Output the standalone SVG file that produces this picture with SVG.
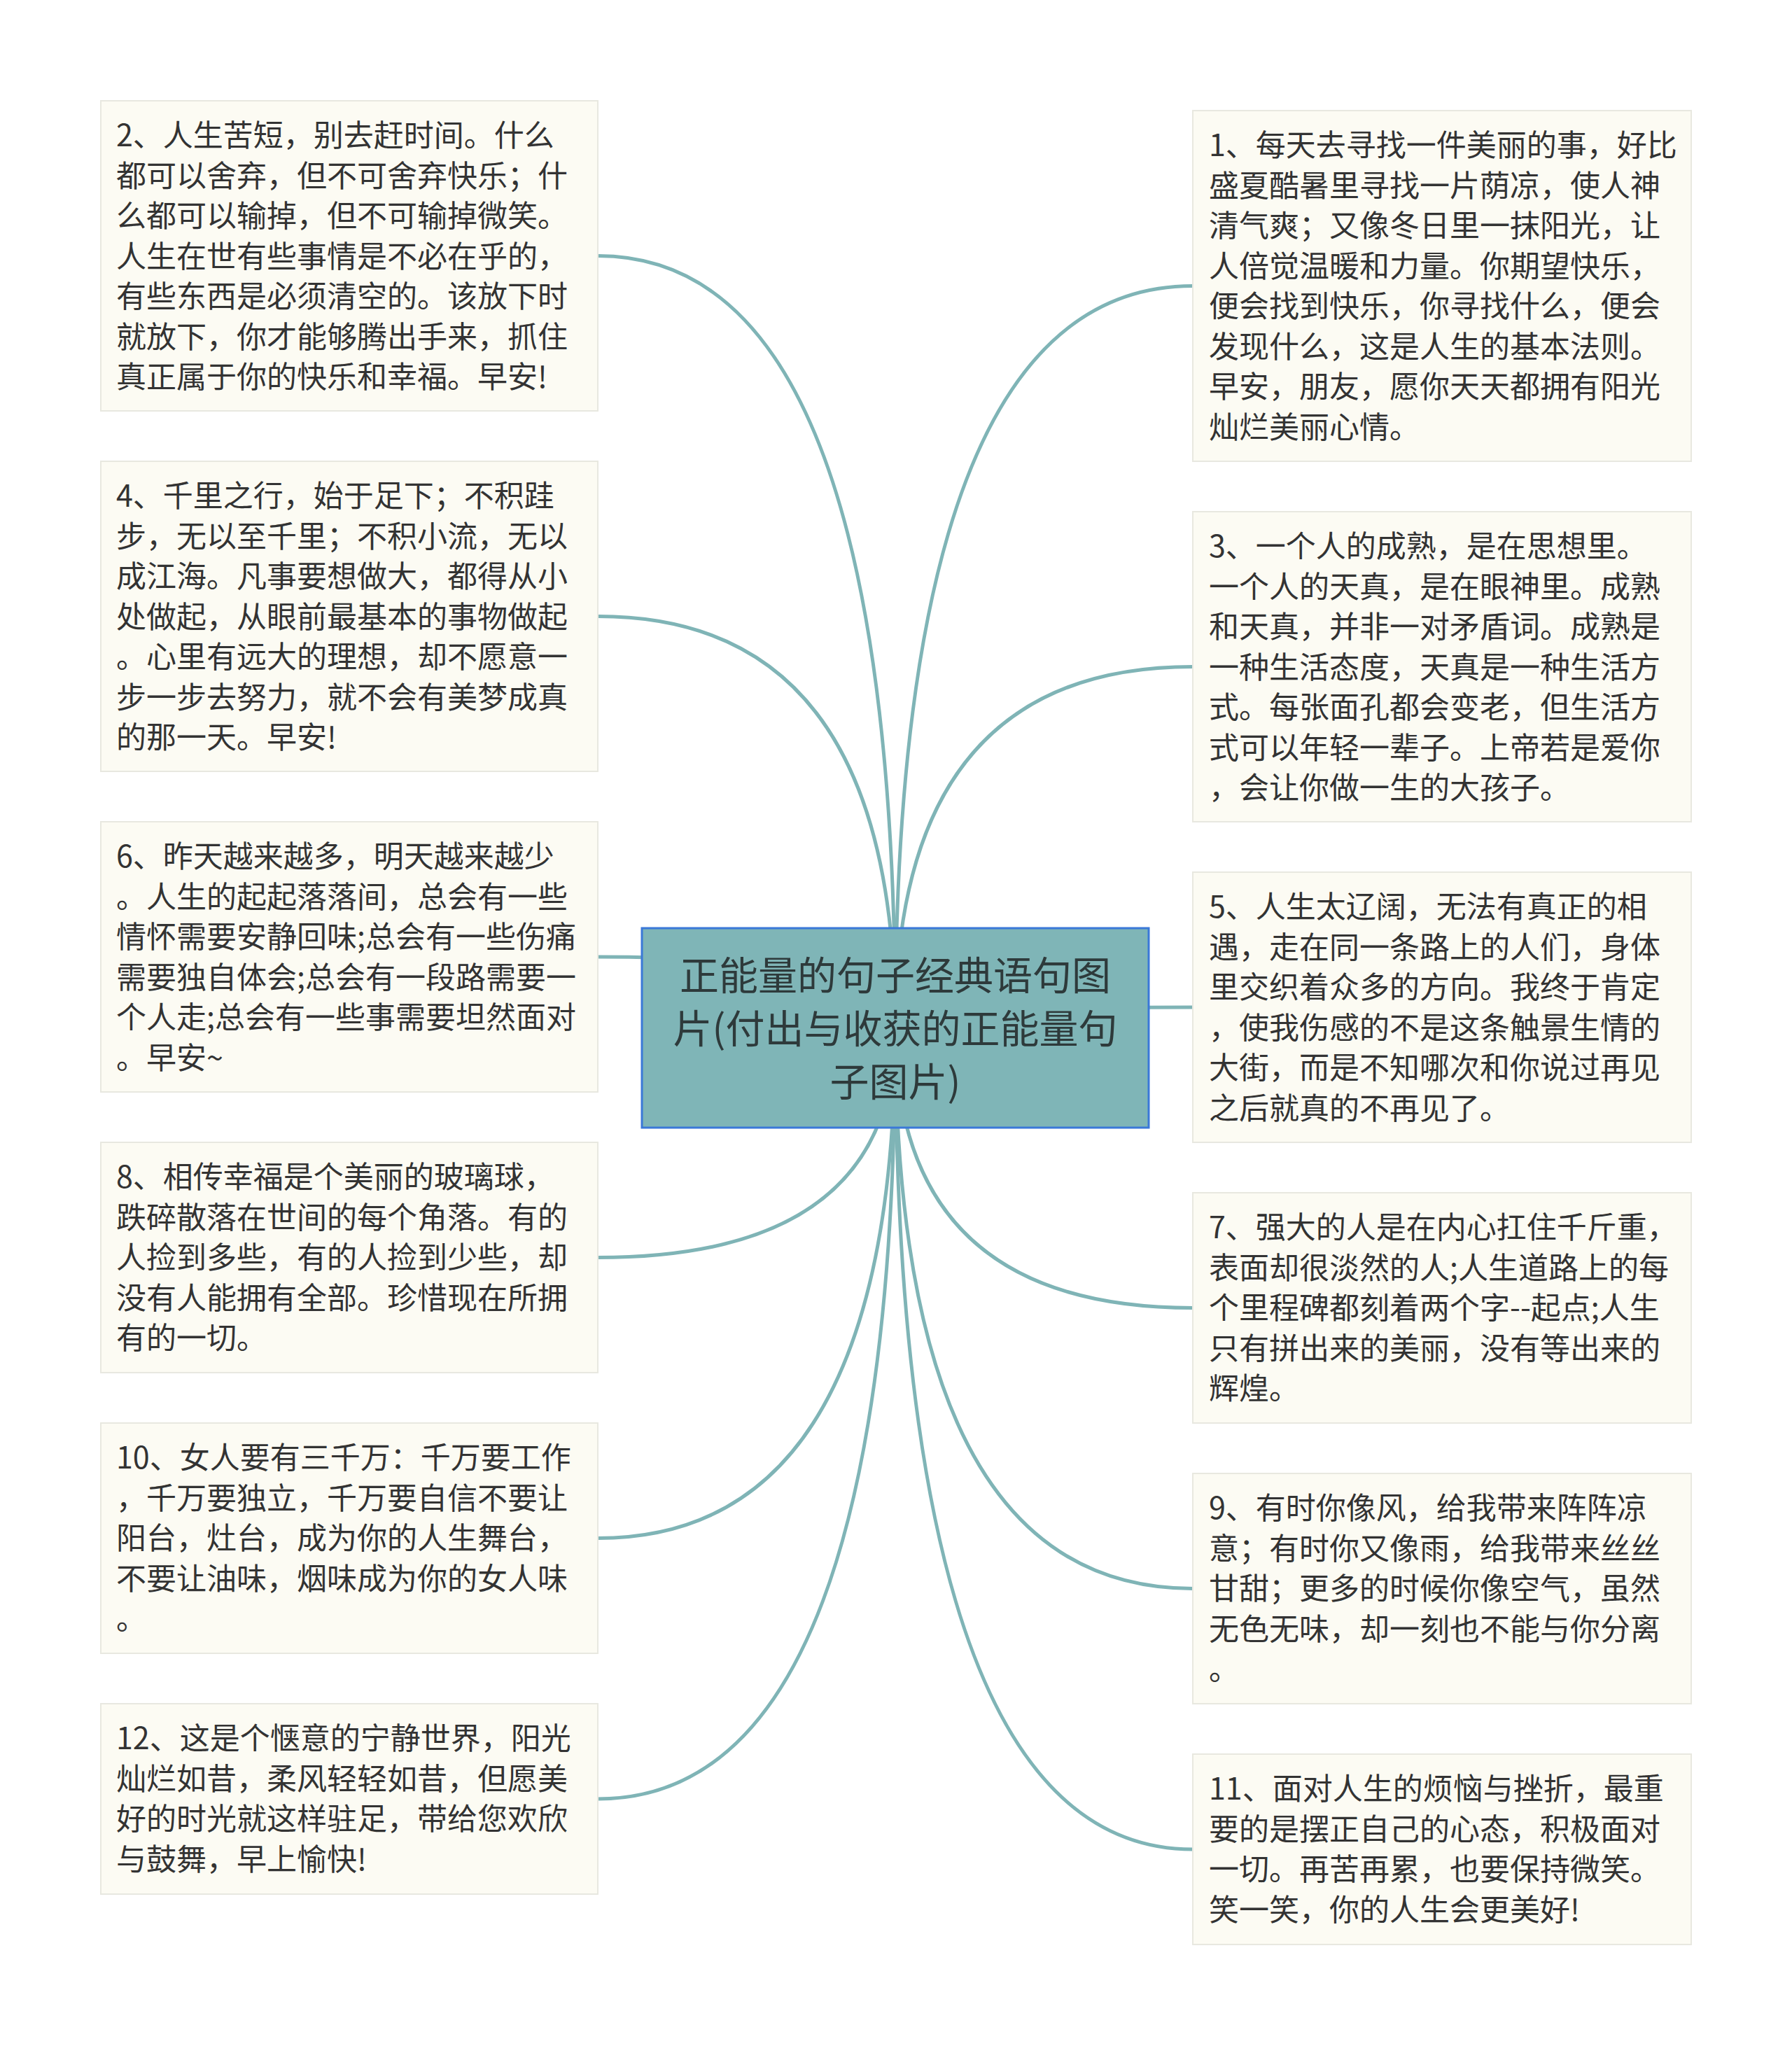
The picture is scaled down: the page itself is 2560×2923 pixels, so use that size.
<svg xmlns="http://www.w3.org/2000/svg" width="2560" height="2923" viewBox="0 0 2560 2923">
<style>
.bg{fill:#ffffff}
.edge{fill:none;stroke:#7fb4b6;stroke-width:5;stroke-linecap:round}
.box{fill:#fcfbf3;stroke:#e8e8e0;stroke-width:2}
.t{font-family:"Noto Sans CJK SC","Noto Sans",sans-serif;font-size:43px;fill:#333333}
.root{fill:#7fb5b7;stroke:#3a78d8;stroke-width:3}
.rt{font-family:"Noto Sans CJK SC","Noto Sans",sans-serif;font-size:56px;fill:#2e3a3b;text-anchor:middle}
</style>
<rect class="bg" x="0" y="0" width="2560" height="2923"/>
<g id="connectors">
<path class="edge" d="M1279,1468 Q1279,365.5 854,365.5"/>
<path class="edge" d="M1279,1468 Q1279,880.5 854,880.5"/>
<path class="edge" d="M1279,1468 Q1279,1367 854,1367"/>
<path class="edge" d="M1279,1468 Q1279,1796.5 854,1796.5"/>
<path class="edge" d="M1279,1468 Q1279,2197.5 854,2197.5"/>
<path class="edge" d="M1279,1468 Q1279,2570 854,2570"/>
<path class="edge" d="M1279,1468 Q1279,408.5 1704,408.5"/>
<path class="edge" d="M1279,1468 Q1279,952.5 1704,952.5"/>
<path class="edge" d="M1279,1468 Q1279,1439 1704,1439"/>
<path class="edge" d="M1279,1468 Q1279,1868.5 1704,1868.5"/>
<path class="edge" d="M1279,1468 Q1279,2269.5 1704,2269.5"/>
<path class="edge" d="M1279,1468 Q1279,2642 1704,2642"/>
</g>
<g id="root">
<rect class="root" x="917" y="1326" width="724" height="285"/>
<text class="rt"><tspan x="1279" y="1414">正能量的句子经典语句图</tspan><tspan x="1279" y="1490">片(付出与收获的正能量句</tspan><tspan x="1279" y="1566">子图片)</tspan></text>
</g>
<g id="node2">
<rect class="box" x="144" y="144" width="710" height="443"/>
<text class="t"><tspan x="166" y="209">2、人生苦短，别去赶时间。什么</tspan><tspan x="166" dy="57.5">都可以舍弃，但不可舍弃快乐；什</tspan><tspan x="166" dy="57.5">么都可以输掉，但不可输掉微笑。</tspan><tspan x="166" dy="57.5">人生在世有些事情是不必在乎的，</tspan><tspan x="166" dy="57.5">有些东西是必须清空的。该放下时</tspan><tspan x="166" dy="57.5">就放下，你才能够腾出手来，抓住</tspan><tspan x="166" dy="57.5">真正属于你的快乐和幸福。早安!</tspan></text>
</g>
<g id="node4">
<rect class="box" x="144" y="659" width="710" height="443"/>
<text class="t"><tspan x="166" y="724">4、千里之行，始于足下；不积跬</tspan><tspan x="166" dy="57.5">步，无以至千里；不积小流，无以</tspan><tspan x="166" dy="57.5">成江海。凡事要想做大，都得从小</tspan><tspan x="166" dy="57.5">处做起，从眼前最基本的事物做起</tspan><tspan x="166" dy="57.5">。心里有远大的理想，却不愿意一</tspan><tspan x="166" dy="57.5">步一步去努力，就不会有美梦成真</tspan><tspan x="166" dy="57.5">的那一天。早安!</tspan></text>
</g>
<g id="node6">
<rect class="box" x="144" y="1174" width="710" height="386"/>
<text class="t"><tspan x="166" y="1239">6、昨天越来越多，明天越来越少</tspan><tspan x="166" dy="57.5">。人生的起起落落间，总会有一些</tspan><tspan x="166" dy="57.5">情怀需要安静回味;总会有一些伤痛</tspan><tspan x="166" dy="57.5">需要独自体会;总会有一段路需要一</tspan><tspan x="166" dy="57.5">个人走;总会有一些事需要坦然面对</tspan><tspan x="166" dy="57.5">。早安~</tspan></text>
</g>
<g id="node8">
<rect class="box" x="144" y="1632" width="710" height="329"/>
<text class="t"><tspan x="166" y="1697">8、相传幸福是个美丽的玻璃球，</tspan><tspan x="166" dy="57.5">跌碎散落在世间的每个角落。有的</tspan><tspan x="166" dy="57.5">人捡到多些，有的人捡到少些，却</tspan><tspan x="166" dy="57.5">没有人能拥有全部。珍惜现在所拥</tspan><tspan x="166" dy="57.5">有的一切。</tspan></text>
</g>
<g id="node10">
<rect class="box" x="144" y="2033" width="710" height="329"/>
<text class="t"><tspan x="166" y="2098">10、女人要有三千万：千万要工作</tspan><tspan x="166" dy="57.5">，千万要独立，千万要自信不要让</tspan><tspan x="166" dy="57.5">阳台，灶台，成为你的人生舞台，</tspan><tspan x="166" dy="57.5">不要让油味，烟味成为你的女人味</tspan><tspan x="166" dy="57.5">。</tspan></text>
</g>
<g id="node12">
<rect class="box" x="144" y="2434" width="710" height="272"/>
<text class="t"><tspan x="166" y="2499">12、这是个惬意的宁静世界，阳光</tspan><tspan x="166" dy="57.5">灿烂如昔，柔风轻轻如昔，但愿美</tspan><tspan x="166" dy="57.5">好的时光就这样驻足，带给您欢欣</tspan><tspan x="166" dy="57.5">与鼓舞，早上愉快!</tspan></text>
</g>
<g id="node1">
<rect class="box" x="1704" y="158" width="712" height="501"/>
<text class="t"><tspan x="1727" y="223">1、每天去寻找一件美丽的事，好比</tspan><tspan x="1727" dy="57.5">盛夏酷暑里寻找一片荫凉，使人神</tspan><tspan x="1727" dy="57.5">清气爽；又像冬日里一抹阳光，让</tspan><tspan x="1727" dy="57.5">人倍觉温暖和力量。你期望快乐，</tspan><tspan x="1727" dy="57.5">便会找到快乐，你寻找什么，便会</tspan><tspan x="1727" dy="57.5">发现什么，这是人生的基本法则。</tspan><tspan x="1727" dy="57.5">早安，朋友，愿你天天都拥有阳光</tspan><tspan x="1727" dy="57.5">灿烂美丽心情。</tspan></text>
</g>
<g id="node3">
<rect class="box" x="1704" y="731" width="712" height="443"/>
<text class="t"><tspan x="1727" y="796">3、一个人的成熟，是在思想里。</tspan><tspan x="1727" dy="57.5">一个人的天真，是在眼神里。成熟</tspan><tspan x="1727" dy="57.5">和天真，并非一对矛盾词。成熟是</tspan><tspan x="1727" dy="57.5">一种生活态度，天真是一种生活方</tspan><tspan x="1727" dy="57.5">式。每张面孔都会变老，但生活方</tspan><tspan x="1727" dy="57.5">式可以年轻一辈子。上帝若是爱你</tspan><tspan x="1727" dy="57.5">，会让你做一生的大孩子。</tspan></text>
</g>
<g id="node5">
<rect class="box" x="1704" y="1246" width="712" height="386"/>
<text class="t"><tspan x="1727" y="1311">5、人生太辽阔，无法有真正的相</tspan><tspan x="1727" dy="57.5">遇，走在同一条路上的人们，身体</tspan><tspan x="1727" dy="57.5">里交织着众多的方向。我终于肯定</tspan><tspan x="1727" dy="57.5">，使我伤感的不是这条触景生情的</tspan><tspan x="1727" dy="57.5">大街，而是不知哪次和你说过再见</tspan><tspan x="1727" dy="57.5">之后就真的不再见了。</tspan></text>
</g>
<g id="node7">
<rect class="box" x="1704" y="1704" width="712" height="329"/>
<text class="t"><tspan x="1727" y="1769">7、强大的人是在内心扛住千斤重，</tspan><tspan x="1727" dy="57.5">表面却很淡然的人;人生道路上的每</tspan><tspan x="1727" dy="57.5">个里程碑都刻着两个字--起点;人生</tspan><tspan x="1727" dy="57.5">只有拼出来的美丽，没有等出来的</tspan><tspan x="1727" dy="57.5">辉煌。</tspan></text>
</g>
<g id="node9">
<rect class="box" x="1704" y="2105" width="712" height="329"/>
<text class="t"><tspan x="1727" y="2170">9、有时你像风，给我带来阵阵凉</tspan><tspan x="1727" dy="57.5">意；有时你又像雨，给我带来丝丝</tspan><tspan x="1727" dy="57.5">甘甜；更多的时候你像空气，虽然</tspan><tspan x="1727" dy="57.5">无色无味，却一刻也不能与你分离</tspan><tspan x="1727" dy="57.5">。</tspan></text>
</g>
<g id="node11">
<rect class="box" x="1704" y="2506" width="712" height="272"/>
<text class="t"><tspan x="1727" y="2571">11、面对人生的烦恼与挫折，最重</tspan><tspan x="1727" dy="57.5">要的是摆正自己的心态，积极面对</tspan><tspan x="1727" dy="57.5">一切。再苦再累，也要保持微笑。</tspan><tspan x="1727" dy="57.5">笑一笑，你的人生会更美好!</tspan></text>
</g>
</svg>
